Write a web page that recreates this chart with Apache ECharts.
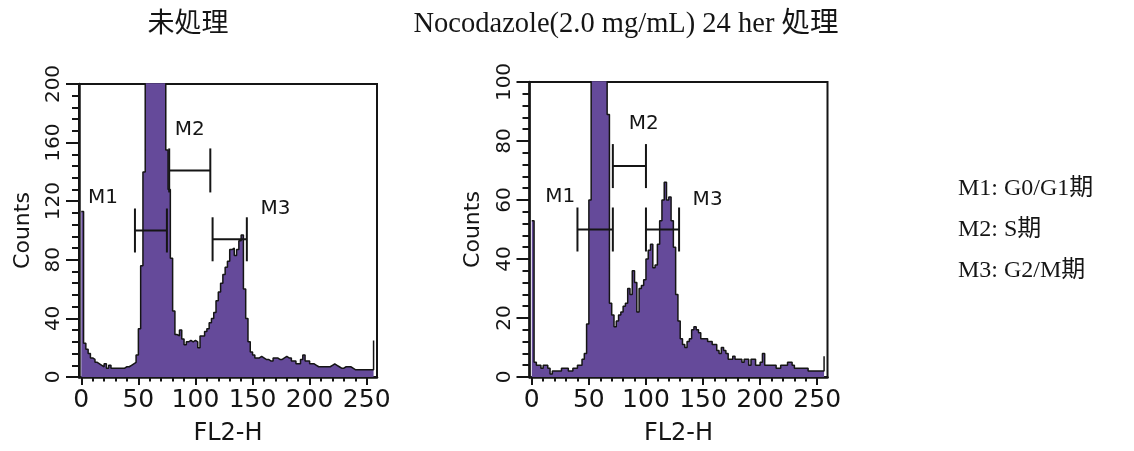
<!DOCTYPE html>
<html>
<head>
<meta charset="utf-8">
<script src="https://cdn.jsdelivr.net/npm/echarts@6/dist/echarts.min.js"></script>
<style>
html,body{margin:0;padding:0;background:#fff;}
#chart{width:1134px;height:451px;}
</style>
</head>
<body>
<div id="chart"></div>
<script>
// ---------- data ----------
const binStart = 0;
const binWidth = 2; // FL2-H channel bins: 0, 2, 4, ... 256

const untreatedCounts = [
  113, 23, 19, 16, 13, 12, 10, 9, 8, 7,
  9, 6, 8, 6, 6, 6, 6, 6, 6, 7,
  7, 8, 9, 10, 15, 33, 76, 140, 215, 250,
  270, 280, 280, 275, 260, 240, 215, 155, 128, 81,
  45, 29, 28, 32, 26, 22, 24, 25, 24, 25,
  24, 20, 28, 28, 31, 33, 37, 40, 44, 52,
  58, 64, 70, 75, 79, 87, 88, 83, 87, 93,
  97, 60, 40, 24, 17, 15, 13, 13, 14, 13,
  12, 12, 11, 11, 13, 13, 12, 12, 13, 14,
  13, 13, 11, 11, 9, 9, 12, 15, 11, 11,
  9, 9, 8, 7, 7, 7, 7, 7, 7, 8,
  9, 8, 7, 6, 6, 7, 7, 7, 6, 5,
  5, 5, 5, 5, 5, 5, 5, 5, 25
];

const nocodazoleCounts = [
  53, 5, 4, 4, 3, 4, 4, 3, 1, 2,
  2, 2, 2, 3, 3, 3, 2, 2, 3, 3,
  4, 4, 6, 8, 18, 60, 110, 130, 140, 140,
  135, 125, 105, 89, 25, 21, 17, 19, 21, 22,
  24, 25, 30, 28, 36, 32, 22, 30, 31, 33,
  40, 43, 45, 37, 38, 45, 53, 60, 66, 60,
  61, 53, 44, 28, 19, 13, 11, 10, 12, 13,
  16, 17, 16, 15, 13, 13, 13, 12, 12, 11,
  11, 9, 8, 10, 9, 8, 6, 6, 7, 6,
  6, 6, 5, 6, 6, 4, 6, 6, 4, 4,
  5, 8, 4, 4, 4, 4, 4, 3, 3, 4,
  4, 4, 5, 5, 4, 3, 3, 3, 3, 3,
  3, 2, 2, 2, 2, 2, 2, 2, 7
];

const xTickValues = [0, 50, 100, 150, 200, 250];
const xMinorTickValues = [0, 10, 20, 30, 40, 50, 60, 70, 80, 90, 100, 110, 120, 130, 140, 150, 160, 170, 180, 190, 200, 210, 220, 230, 240, 250];
const untreatedYMax = 200, untreatedYStep = 40;
const nocodazoleYMax = 100, nocodazoleYStep = 20;

const plotTitles = ['未処理', 'Nocodazole(2.0 mg/mL) 24 her 処理'];
const xAxisName = 'FL2-H';
const yAxisName = 'Counts';

const gateNames = ['M1', 'M2', 'M3'];
// untreated gates
const untreatedGateFrom = [47, 77, 115];
const untreatedGateTo = [75, 113, 145];
const untreatedGateLevel = [100, 141, 94];
const untreatedGateLabelX = [19, 95, 170];
const untreatedGateLabelY = [122, 169, 115];
// nocodazole gates
const nocodazoleGateFrom = [40, 71, 100];
const nocodazoleGateTo = [71, 100, 129];
const nocodazoleGateLevel = [50, 71.5, 50];
const nocodazoleGateLabelX = [25, 98, 154];
const nocodazoleGateLabelY = [61, 86, 60];

const legendLines = ['M1: G0/G1期', 'M2: S期', 'M3: G2/M期'];

// ---------- styles ----------
const INK = '#151515';
const FILL = '#654a9a';
const SANS = "'DejaVu Sans', 'Noto Sans', sans-serif";
const SERIF = "'Liberation Serif', 'Noto Sans CJK JP', serif";

function toPairs(counts) {
  return counts.map((c, i) => [binStart + i * binWidth, c]);
}

function gateData(from, to, level, lx, ly) {
  return from.map((f, i) => [f, to[i], level[i], lx[i], ly[i]]);
}

function gateRender(params, api) {
  const a = api.coord([api.value(0), api.value(2)]);
  const b = api.coord([api.value(1), api.value(2)]);
  const l = api.coord([api.value(3), api.value(4)]);
  const h = 22;
  const st = { stroke: INK, lineWidth: 2 };
  return {
    type: 'group',
    children: [
      { type: 'line', shape: { x1: a[0], y1: a[1], x2: b[0], y2: b[1] }, style: st },
      { type: 'line', shape: { x1: a[0], y1: a[1] - h, x2: a[0], y2: a[1] + h }, style: st },
      { type: 'line', shape: { x1: b[0], y1: b[1] - h, x2: b[0], y2: b[1] + h }, style: st },
      { type: 'text', x: l[0], y: l[1],
        style: { text: gateNames[params.dataIndex], fill: INK, font: '20px ' + SANS,
                 fontSize: 20, fontFamily: SANS,
                 align: 'center', verticalAlign: 'middle', textAlign: 'center', textVerticalAlign: 'middle' } }
    ]
  };
}

function mainXAxis(g) {
  return {
    gridIndex: g, type: 'value', min: -2, max: 259, position: 'bottom',
    axisLine: { show: true, onZero: false, lineStyle: { color: INK, width: 2.5 } },
    axisTick: { show: true, customValues: xTickValues, length: 8, lineStyle: { color: INK, width: 2 } },
    axisLabel: { show: true, customValues: xTickValues, margin: 11, fontSize: 25, fontFamily: SANS, color: INK },
    splitLine: { show: false },
    name: xAxisName, nameLocation: 'middle', nameGap: 45,
    nameTextStyle: { fontSize: 24, fontFamily: SANS, color: INK }
  };
}
function minorXAxis(g) {
  return {
    gridIndex: g, type: 'value', min: -2, max: 259, position: 'bottom',
    axisLine: { show: false, onZero: false },
    axisTick: { show: true, customValues: xMinorTickValues, length: 4.5, lineStyle: { color: INK, width: 2 } },
    axisLabel: { show: false },
    splitLine: { show: false }
  };
}
function yAxis(g, max, step) {
  return {
    gridIndex: g, type: 'value', min: 0, max: max, interval: step,
    axisLine: { show: true, onZero: false, lineStyle: { color: INK, width: 2.5 } },
    axisTick: { show: true, length: 13, lineStyle: { color: INK, width: 2 } },
    minorTick: { show: true, splitNumber: 5, length: 7, lineStyle: { color: INK, width: 2 } },
    axisLabel: { rotate: 90, margin: 15, fontSize: 20, fontFamily: SANS, color: INK },
    splitLine: { show: false }, minorSplitLine: { show: false },
    name: yAxisName, nameLocation: 'middle', nameRotate: 90, nameGap: 45,
    nameTextStyle: { fontSize: 22, fontFamily: SANS, color: INK }
  };
}
function histSeries(xi, yi, counts) {
  return {
    type: 'line', xAxisIndex: xi, yAxisIndex: yi, step: 'end', symbol: 'none',
    data: toPairs(counts), clip: true, silent: true, z: 2,
    lineStyle: { color: INK, width: 1.5 },
    areaStyle: { color: FILL, opacity: 1 }
  };
}
function gateSeries(xi, yi, data) {
  return {
    type: 'custom', xAxisIndex: xi, yAxisIndex: yi, clip: false, silent: true, z: 5,
    renderItem: gateRender, data: data,
    encode: { x: [0, 1, 3], y: [2, 4] }
  };
}

const chart = echarts.init(document.getElementById('chart'), null, { renderer: 'canvas' });

const graphicEls = [
  { type: 'text', x: 188, y: 25, style: { text: plotTitles[0], fill: INK, fontSize: 27, fontFamily: SERIF, font: '27px ' + SERIF, align: 'center', verticalAlign: 'middle', textAlign: 'center', textVerticalAlign: 'middle' } },
  { type: 'text', x: 626, y: 25, style: { text: plotTitles[1], fill: INK, fontSize: 28.5, fontFamily: SERIF, font: '28.5px ' + SERIF, align: 'center', verticalAlign: 'middle', textAlign: 'center', textVerticalAlign: 'middle' } }
];
const legendY = [189, 230, 271];
legendLines.forEach((t, i) => {
  graphicEls.push({ type: 'text', x: 958, y: legendY[i],
    style: { text: t, fill: INK, fontSize: 24, fontFamily: SERIF, font: '24px ' + SERIF, align: 'left', verticalAlign: 'middle', textAlign: 'left', textVerticalAlign: 'middle' } });
});

chart.setOption({
  animation: false,
  backgroundColor: '#fff',
  grid: [
    { left: 79, top: 84, width: 298, height: 295.5, show: true, borderColor: INK, borderWidth: 2, backgroundColor: '#fff', containLabel: false },
    { left: 529.5, top: 82, width: 298, height: 295.5, show: true, borderColor: INK, borderWidth: 2, backgroundColor: '#fff', containLabel: false }
  ],
  xAxis: [mainXAxis(0), minorXAxis(0), mainXAxis(1), minorXAxis(1)],
  yAxis: [yAxis(0, untreatedYMax, untreatedYStep), yAxis(1, nocodazoleYMax, nocodazoleYStep)],
  series: [
    histSeries(0, 0, untreatedCounts),
    gateSeries(0, 0, gateData(untreatedGateFrom, untreatedGateTo, untreatedGateLevel, untreatedGateLabelX, untreatedGateLabelY)),
    histSeries(2, 1, nocodazoleCounts),
    gateSeries(2, 1, gateData(nocodazoleGateFrom, nocodazoleGateTo, nocodazoleGateLevel, nocodazoleGateLabelX, nocodazoleGateLabelY))
  ],
  graphic: graphicEls
});
</script>
</body>
</html>
